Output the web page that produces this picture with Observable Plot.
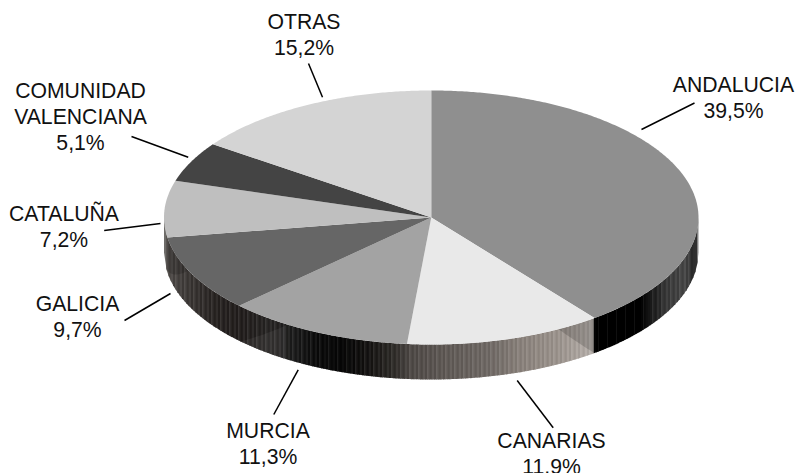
<!DOCTYPE html>
<html lang="es">
<head>
<meta charset="utf-8">
<style>html,body{margin:0;padding:0;background:#fff;overflow:hidden}svg{display:block}</style>
<script src="https://cdn.jsdelivr.net/npm/d3@7"></script>
<script src="https://cdn.jsdelivr.net/npm/@observablehq/plot@0.6"></script>
</head>
<body>
<div id="chart"></div>
<script>
// Data, in drawing order clockwise from the top
const names = ["ANDALUCIA", "CANARIAS", "MURCIA", "GALICIA", "CATALUÑA", "COMUNIDAD\nVALENCIANA", "OTRAS"];
const shares = [39.5, 11.9, 11.3, 9.7, 7.2, 5.1, 15.2];

// Styles
const faceColors = ["#8f8f8f", "#e9e9e9", "#a3a3a3", "#666666", "#bfbfbf", "#444444", "#d4d4d4"];
const wallStopX = [163, 165.5, 172, 190, 215, 240, 270, 295, 315, 340, 370, 395, 410, 440, 490, 520, 560, 593.8, 594.2, 640, 650, 665, 685, 695, 698];
const wallStopC = ["#a8a8a8", "#5a5652", "#4c4846", "#3c3836", "#2a2624", "#252120", "#2a2827", "#1e1e1e", "#101010", "#080808", "#1a1817", "#33302d", "#4f4a47", "#5e5854", "#706a66", "#89817b", "#9c948e", "#b6b0ab", "#000000", "#000000", "#181818", "#393939", "#484848", "#222222", "#888888"];

// Layout in pixels of the 796x473 picture
const W = 796, H = 473, left = 163.5, right = 698, top_ = 90, bottom = 344, wallPx = 35;
const cx = (left + right) / 2, rx = (right - left) / 2, ry = (bottom - top_) / 2;
const ux = px => (px - cx) / rx;
const uy = py => ((top_ + bottom) / 2 - py) / ry;
const depth = wallPx / ry;

const labelAt = [[733, 96.5], [551, 452.5], [267.5, 442.5], [77, 315.5], [63.5, 225.5], [80, 115.5], [303.5, 33.5]];
const leaders = [
  [641, 129, 694, 102.5], [516.7, 380, 552.7, 427.3], [297.7, 369.3, 273.3, 414],
  [170, 293, 124, 320], [160, 223, 103.7, 230], [187.7, 156.7, 131, 136], [322, 96.7, 308, 63]
];
// Wall reflections: x range, depth fraction of the edge at each end, tint
const reflections = [
  {x0: 558, x1: 594, f0: 0, f1: 1, from: "top", color: "#000", opacity: 0.17},
  {x0: 240, x1: 286, f0: 1, f1: 0.03, from: "bottom", color: "#fff", opacity: 0.06},
  {x0: 165.5, x1: 188, f0: 1, f1: 0, from: "top", color: "#000", opacity: 0.17}
];

// Top faces from the shares
const total = d3.sum(shares);
let acc = 0;
const faces = [];
shares.forEach((s, i) => {
  const a0 = acc / total * 2 * Math.PI;
  acc += s;
  const a1 = acc / total * 2 * Math.PI;
  faces.push({id: i, fill: faceColors[i], x: 0, y: 0});
  const n = Math.max(2, Math.ceil((a1 - a0) * 120));
  for (let k = 0; k <= n; k++) {
    const a = a0 + (a1 - a0) * k / n;
    faces.push({id: i, fill: faceColors[i], x: Math.sin(a), y: Math.cos(a)});
  }
});

// Striped wall along the front half of the rim
const wallColor = d3.scaleLinear().domain(wallStopX).range(wallStopC).interpolate(d3.interpolateRgb).clamp(true);
const rimY = x => -Math.sqrt(Math.max(0, 1 - x * x));
const stripePx = 2.25;
const strips = [];
let idx = 0;
for (let px = left; px < right; px += stripePx, idx++) {
  const px1 = Math.min(right, px + stripePx + 0.5);
  const base = d3.rgb(wallColor(px + stripePx / 2));
  const isDarkBand = base.r < 14 && (px < 594 || px > 640);
  const amp = (px > 594 && px < 650) ? 0 : (idx % 2 ? 7 : -7) * (isDarkBand ? 0.5 : 1);
  const c = d3.rgb(base.r + amp, base.g + amp, base.b + amp).formatHex();
  const x0 = ux(px), x1 = ux(px1);
  [[x0, rimY(x0)], [x1, rimY(x1)], [x1, rimY(x1) - depth], [x0, rimY(x0) - depth]]
    .forEach(([x, y]) => strips.push({id: idx, fill: c, x, y}));
}

// Reflection patches
const patches = [];
reflections.forEach((r, i) => {
  const steps = 16, up = [], down = [];
  for (let k = 0; k <= steps; k++) {
    const t = k / steps;
    const x = ux(r.x0 + (r.x1 - r.x0) * t);
    const f = r.f0 + (r.f1 - r.f0) * t;
    const edge = r.from === "top" ? 0 : 1;
    up.push({x, y: rimY(x) - depth * f});
    down.push({x, y: rimY(x) - depth * edge});
  }
  down.reverse();
  up.concat(down).forEach(p => patches.push({...p, id: i, fill: r.color, op: r.opacity}));
});

const labels = names.map((n, i) => ({
  text: n + "\n" + shares[i].toFixed(1).replace(".", ",") + "%",
  x: ux(labelAt[i][0]), y: uy(labelAt[i][1])
}));
const links = leaders.map(([a, b, c, d]) => ({x1: ux(a), y1: uy(b), x2: ux(c), y2: uy(d)}));

const plot = Plot.plot({
  width: W, height: H,
  margin: 0,
  style: {background: "#fff", fontFamily: "'Liberation Sans', Arial, sans-serif"},
  x: {domain: [-1, 1], range: [left, right], axis: null},
  y: {domain: [1, -1], range: [top_, bottom], axis: null},
  marks: [
    Plot.line(strips, {x: "x", y: "y", z: "id", fill: "fill", stroke: "none", curve: "linear-closed"}),
    ...reflections.map((r, i) =>
      Plot.line(patches.filter(p => p.id === i), {x: "x", y: "y", fill: r.color, fillOpacity: r.opacity, stroke: "none", curve: "linear-closed"})),
    Plot.line(faces, {x: "x", y: "y", z: "id", fill: "fill", stroke: "none", curve: "linear-closed"}),
    Plot.link(links, {x1: "x1", y1: "y1", x2: "x2", y2: "y2", stroke: "#000", strokeWidth: 1.5}),
    Plot.text(labels, {x: "x", y: "y", text: "text", fontSize: 21.2, lineHeight: 1.226, lineAnchor: "middle", textAnchor: "middle", fill: "#111"})
  ]
});
document.getElementById("chart").appendChild(plot);
</script>
</body>
</html>
